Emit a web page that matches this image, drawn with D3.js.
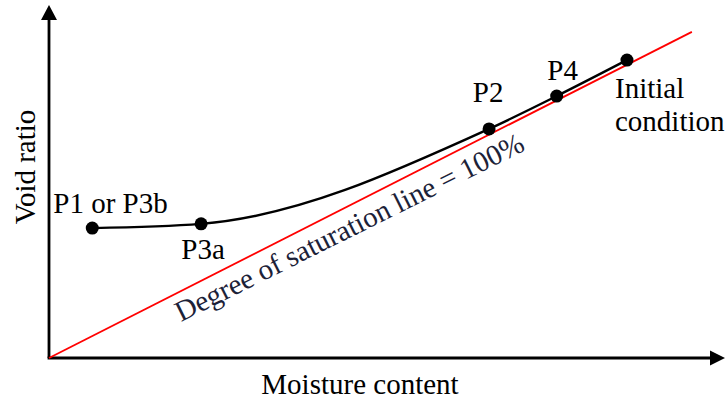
<!DOCTYPE html>
<html>
<head>
<meta charset="utf-8">
<script src="https://cdn.jsdelivr.net/npm/d3@7"></script>
<style>
  html, body { margin: 0; padding: 0; background: #fff; }
  svg { display: block; }
  text { font-family: "Liberation Serif", "Times New Roman", serif; }
</style>
</head>
<body>
<svg id="chart" width="726" height="400"></svg>
<script>
// Drying path of the soil sample in the void ratio / moisture content plane
const pointNames = ["P1 or P3b", "P3a", "P2", "P4", "Initial condition"];
const moisture   = [6.4, 22.5, 65.1, 75.1, 85.5];
const voidRatio  = [36.8, 38.0, 64.9, 74.2, 84.4];

// Full-saturation line (Sr = 100%) end points
const satMoisture = [0, 95.1];
const satVoid     = [0, 92.4];
const satLabel = "Degree of saturation line = 100%";

const xLabel = "Moisture content";
const yLabel = "Void ratio";

const FS = 29;

const svg = d3.select("#chart");
const x = d3.scaleLinear().domain([0, 100]).range([49, 725]);
const y = d3.scaleLinear().domain([0, 100]).range([358, 5]);

// Axes with arrow heads
svg.append("line")
  .attr("x1", x(0)).attr("y1", y(0)).attr("x2", x(0)).attr("y2", y(96))
  .attr("stroke", "#000").attr("stroke-width", 2.8);
svg.append("line")
  .attr("x1", x(0) - 1.4).attr("y1", y(0)).attr("x2", x(98)).attr("y2", y(0))
  .attr("stroke", "#000").attr("stroke-width", 2.8);
svg.append("path")
  .attr("d", `M${x(0)},${y(100)} L${x(0) - 8},${y(100) + 15} L${x(0) + 8},${y(100) + 15} Z`)
  .attr("fill", "#000");
svg.append("path")
  .attr("d", `M${x(100)},${y(0)} L${x(100) - 15},${y(0) - 7.5} L${x(100) - 15},${y(0) + 7.5} Z`)
  .attr("fill", "#000");

// Saturation line
const satData = satMoisture.map((m, i) => [m, satVoid[i]]);
svg.append("path")
  .datum(satData)
  .attr("d", d3.line().x(d => x(d[0])).y(d => y(d[1])))
  .attr("fill", "none").attr("stroke", "#ff0000").attr("stroke-width", 1.8);

// Drying curve through the measured states
const pts = pointNames.map((n, i) => ({ name: n, m: moisture[i], e: voidRatio[i] }));
svg.append("path")
  .datum(pts)
  .attr("d", d3.line().x(d => x(d.m)).y(d => y(d.e)).curve(d3.curveMonotoneX))
  .attr("fill", "none").attr("stroke", "#000").attr("stroke-width", 2.4);

svg.selectAll("circle.pt").data(pts).enter().append("circle")
  .attr("class", "pt")
  .attr("cx", d => x(d.m)).attr("cy", d => y(d.e)).attr("r", 6.5)
  .attr("fill", "#000");

// Point labels: offsets from each point (dx, dy, anchor)
const labelOffset = {
  "P1 or P3b": [-39, -15, "start"],
  "P3a": [2, 35, "middle"],
  "P2": [-1, -27, "middle"],
  "P4": [6, -16, "middle"]
};
pts.forEach(p => {
  if (p.name === "Initial condition") {
    const t = svg.append("text")
      .attr("x", x(p.m) - 12).attr("y", y(p.e) + 38)
      .attr("font-size", FS).attr("fill", "#000");
    t.append("tspan").attr("x", x(p.m) - 12).text("Initial");
    t.append("tspan").attr("x", x(p.m) - 12).attr("dy", 33).text("condition");
    return;
  }
  const o = labelOffset[p.name];
  svg.append("text")
    .attr("x", x(p.m) + o[0]).attr("y", y(p.e) + o[1])
    .attr("text-anchor", o[2])
    .attr("font-size", FS).attr("fill", "#000")
    .text(p.name);
});

// Saturation line label, laid along the line
const angle = Math.atan2(y(satVoid[1]) - y(satVoid[0]), x(satMoisture[1]) - x(satMoisture[0])) * 180 / Math.PI;
svg.append("text")
  .attr("transform", `translate(181,322) rotate(${angle + 0.4})`)
  .attr("font-size", FS).attr("fill", "#1c2238")
  .text(satLabel);

// Axis titles
svg.append("text")
  .attr("x", 360).attr("y", 394)
  .attr("text-anchor", "middle")
  .attr("font-size", FS).attr("fill", "#000")
  .text(xLabel);
svg.append("text")
  .attr("transform", "translate(35,167) rotate(-90)")
  .attr("text-anchor", "middle")
  .attr("font-size", FS).attr("fill", "#000")
  .text(yLabel);
</script>
</body>
</html>
